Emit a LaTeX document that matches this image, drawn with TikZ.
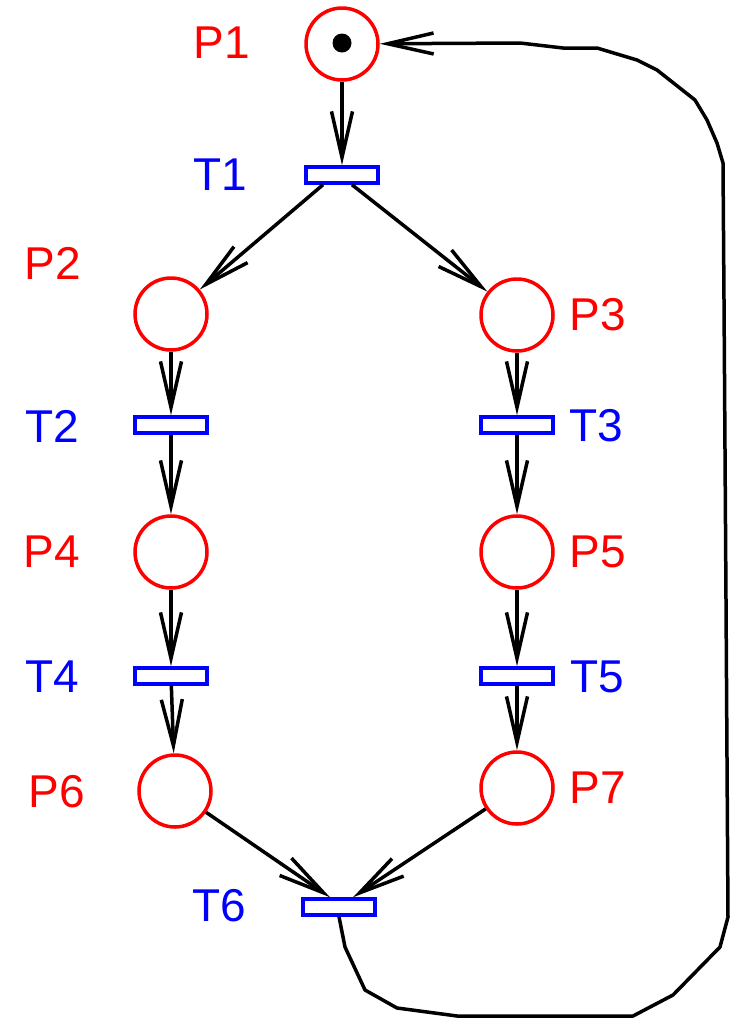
\documentclass[tikz,border=0pt]{standalone}
\usepackage{fontspec}
\setmainfont{Liberation Sans}
\usetikzlibrary{arrows.meta}
\begin{document}
\begin{tikzpicture}[x=1pt,y=-1pt,
  place/.style={circle,draw=red,line width=3.5pt,minimum size=72pt,inner sep=0pt},
  trans/.style={rectangle,draw=blue,line width=3.5pt,minimum width=72pt,minimum height=16pt,inner sep=0pt},
  plabel/.style={text=red,inner sep=0pt,font=\fontsize{46}{50}\selectfont},
  tlabel/.style={text=blue,inner sep=0pt,font=\fontsize{46}{50}\selectfont},
  arc/.style={line width=3.5pt,-{Straight Barb[length=46pt,width=21pt,line width=3.5pt]}},
  token/.style={circle,fill=black,minimum size=19pt,inner sep=0pt}]
\useasboundingbox (0,0) rectangle (733,1018);
% places
\node[place] (P1) at (342,44) {};
\node[token] (tok) at (342,43) {};
\node[place] (P2) at (171,314) {};
\node[place] (P3) at (517,315) {};
\node[place] (P4) at (171,552) {};
\node[place] (P5) at (517,552) {};
\node[place] (P6) at (175,791) {};
\node[place] (P7) at (517,788) {};
% transitions
\node[trans] (T1) at (342,175) {};
\node[trans] (T2) at (171,425) {};
\node[trans] (T3) at (517,425) {};
\node[trans] (T4) at (171,676) {};
\node[trans] (T5) at (517,676) {};
\node[trans] (T6) at (339,907) {};
% labels
\node[plabel] (lP1) at (222,43) {P1};
\node[plabel] (lP2) at (53,263) {P2};
\node[plabel] (lP3) at (598,315) {P3};
\node[plabel] (lP4) at (52,552) {P4};
\node[plabel] (lP5) at (598,552) {P5};
\node[plabel] (lP6) at (57,792) {P6};
\node[plabel] (lP7) at (598,788) {P7};
\node[tlabel] (lT1) at (220,175) {T1};
\node[tlabel] (lT2) at (52,426) {T2};
\node[tlabel] (lT3) at (596,426) {T3};
\node[tlabel] (lT4) at (52,677) {T4};
\node[tlabel] (lT5) at (597,677) {T5};
\node[tlabel] (lT6) at (219,906) {T6};
% arcs
\draw[arc] (P1) -- (T1);
\draw[arc] ([xshift=-19pt]T1.south) -- (P2);
\draw[arc] ([xshift=10pt]T1.south) -- (P3);
\draw[arc] (P2) -- (T2);
\draw[arc] (T2) -- (P4);
\draw[arc] (P4) -- (T4);
\draw[arc] (T4) -- (P6);
\draw[arc] (P3) -- (T3);
\draw[arc] (T3) -- (P5);
\draw[arc] (P5) -- (T5);
\draw[arc] (T5) -- (P7);
\draw[arc] (P6) -- ([xshift=-9pt]T6.north);
\draw[arc] (P7) -- ([xshift=14pt]T6.north);
\draw[arc,line join=round] (T6.south) -- (345,947) -- (365,990) -- (397,1008) -- (457,1016)
  -- (633,1016) -- (673,995) -- (720,947) -- (728,917) -- (726,600) -- (724,300)
  -- (723,163) -- (717,143) -- (707,120) -- (695,100) -- (657,70) -- (637,60)
  -- (597,48) -- (563,48) -- (520,43) -- (P1);
\end{tikzpicture}
\end{document}
